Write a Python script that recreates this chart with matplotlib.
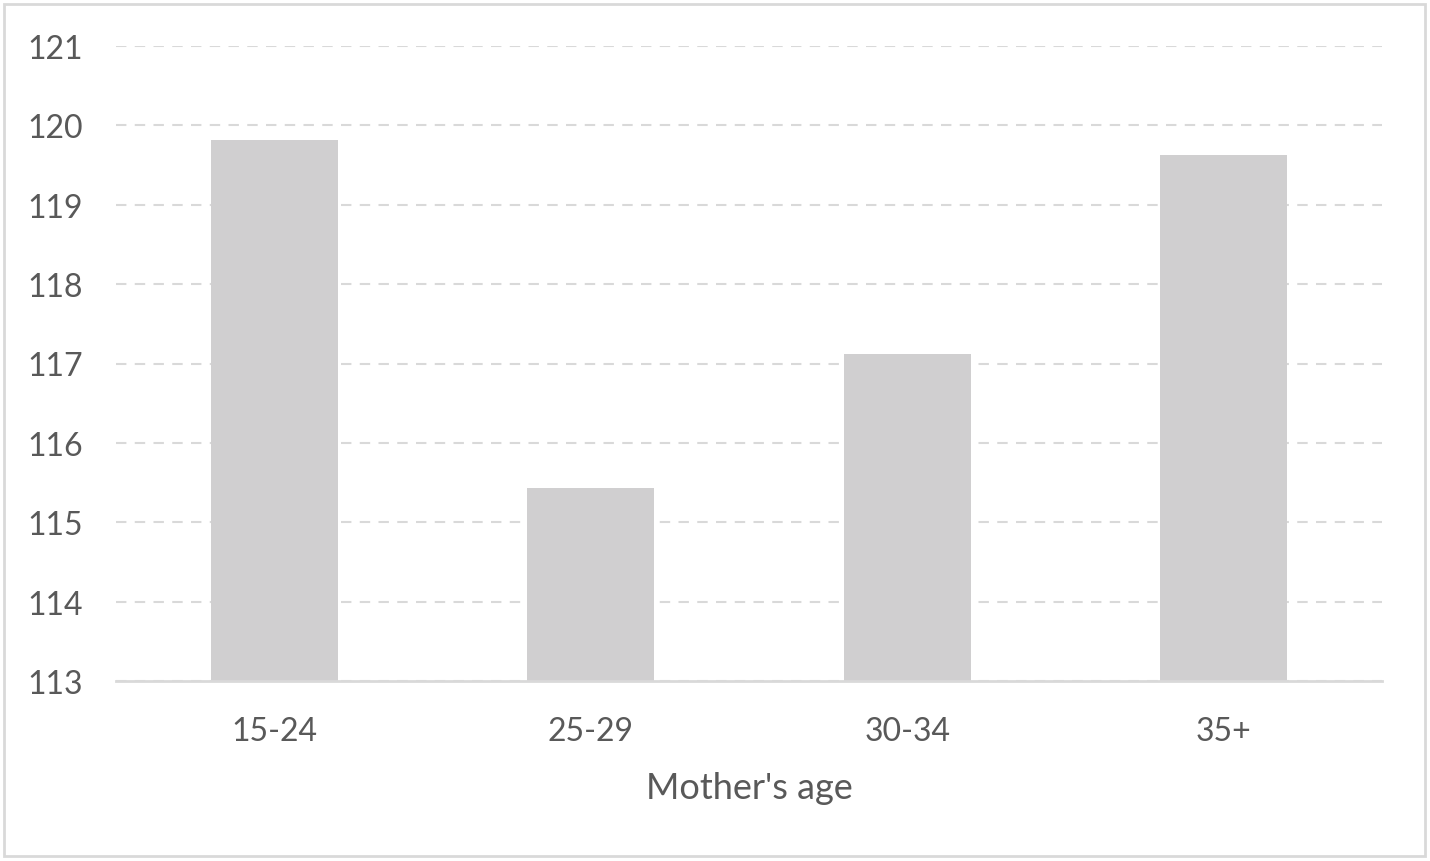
import matplotlib
matplotlib.use("Agg")
import matplotlib.pyplot as plt
from matplotlib.patches import Rectangle

categories = ["15-24", "25-29", "30-34", "35+"]
values = [119.82, 115.43, 117.12, 119.63]
yticks = [113, 114, 115, 116, 117, 118, 119, 120, 121]
xlabel = "Mother's age"

plt.rcParams['font.family'] = ['Lato', 'DejaVu Sans']
text_color = "#595959"
grid_color = "#d9d9d9"

fig = plt.figure(figsize=(14.30, 8.62), dpi=100)
ax = fig.add_axes([116/1430, 1 - 682/862, (1382-116)/1430, (682-47)/862])

x = range(len(categories))
ax.bar(x, [v - 113 for v in values], bottom=113, width=0.40, color="#d0cfd0", zorder=3)
ax.set_xlim(-0.5, len(categories) - 0.5)
ax.set_ylim(113, 121)
ax.set_yticks(yticks)
ax.set_yticklabels([str(t) for t in yticks])
ax.set_xticks(list(x))
ax.set_xticklabels(categories)
ax.tick_params(axis='both', length=0, labelsize=23, colors=text_color)
ax.tick_params(axis='y', pad=24)
ax.tick_params(axis='x', pad=25)
ax.yaxis.grid(True, color=grid_color, linestyle=(0, (5, 4)), linewidth=1.5, zorder=0)
for s in ["top", "right", "left"]:
    ax.spines[s].set_visible(False)
ax.spines["bottom"].set_color(grid_color)
ax.spines["bottom"].set_linewidth(2)
ax.spines["bottom"].set_zorder(4)
ax.set_xlabel(xlabel, fontsize=26, color=text_color, labelpad=18)

fig.patches.append(Rectangle((4/1430, 5/862), 1421/1430, 852/862, transform=fig.transFigure,
                             fill=False, edgecolor=grid_color, linewidth=2))

fig.savefig("out.png", dpi=100)
